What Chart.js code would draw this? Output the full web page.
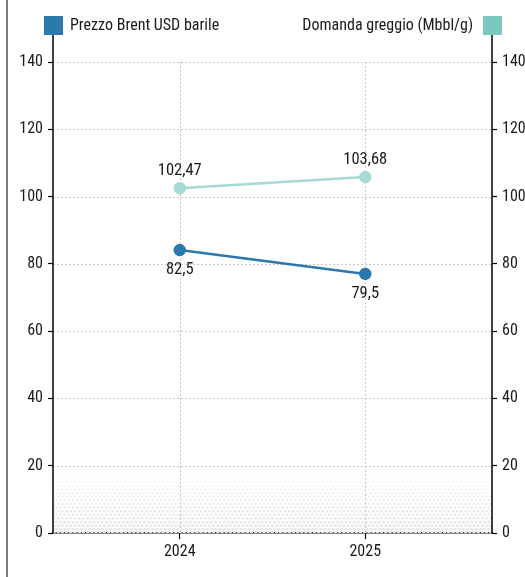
<!DOCTYPE html>
<html>
<head>
<meta charset="utf-8">
<script src="https://cdn.jsdelivr.net/npm/chart.js@4.4.1/dist/chart.umd.min.js"></script>
<style>
  html, body { margin: 0; padding: 0; background: #fff; }
  #wrap { position: relative; width: 525px; height: 577px; }
  #edge { position: absolute; left: 6px; top: 0; width: 2px; height: 577px; background: #7a7a7a; }
  canvas { position: absolute; left: 0; top: 0; }
</style>
</head>
<body>
<div id="wrap"><canvas id="c" width="525" height="577"></canvas><div id="edge"></div></div>
<script>
const years = [2024, 2025];
const brentValues = [84.1, 77.0];
const brentLabels = ["82,5", "79,5"];
const demandValues = [102.5, 105.8];
const demandLabels = ["102,47", "103,68"];
const yTicks = [0, 20, 40, 60, 80, 100, 120, 140];
const seriesNames = ["Prezzo Brent USD barile", "Domanda greggio (Mbbl/g)"];

const FONT = "'Roboto Condensed', 'Liberation Sans Narrow', 'Roboto', 'Liberation Sans', sans-serif";
const BLUE = '#2a78ad';
const BLUE_LEG = '#2b79ad';
const TEAL = '#a6dad4';
const TEAL_LEG = '#7bc8c1';

const decor = {
  id: 'decor',
  beforeDatasetsDraw(chart) {
    const ctx = chart.ctx;
    const ca = chart.chartArea;
    const yL = chart.scales.y, x = chart.scales.x;
    // halftone band at bottom
    const topY = yL.getPixelForValue(17.5);
    const h = ca.bottom - topY;
    ctx.save();
    ctx.beginPath();
    ctx.rect(ca.left, topY, ca.right - ca.left, h);
    ctx.clip();
    ctx.fillStyle = '#e9e9e9';
    let row = 0;
    for (let py = topY + 1; py < ca.bottom; py += 3.6, row++) {
      const t = (py - topY) / h;
      const r = 0.45 + 1.35 * t;
      const off = (row % 2) * 2.1;
      for (let px = ca.left + 1 + off; px < ca.right + 2; px += 4.2) {
        ctx.beginPath(); ctx.arc(px, py, r, 0, Math.PI * 2); ctx.fill();
      }
    }
    ctx.restore();
    ctx.save();
    // dotted grid
    ctx.strokeStyle = '#c8c8c8';
    ctx.lineWidth = 1;
    ctx.setLineDash([2, 2]);
    yTicks.forEach(v => {
      if (v === 0) return;
      const py = Math.round(yL.getPixelForValue(v)) + 0.5;
      ctx.beginPath(); ctx.moveTo(ca.left, py); ctx.lineTo(ca.right, py); ctx.stroke();
    });
    years.forEach(v => {
      const px = Math.round(x.getPixelForValue(v)) + 0.5;
      ctx.beginPath(); ctx.moveTo(px, ca.top); ctx.lineTo(px, ca.bottom); ctx.stroke();
    });
    ctx.restore();
  },
  afterDraw(chart) {
    const ctx = chart.ctx;
    const ca = chart.chartArea;
    ctx.save();
    // axis lines extended to legend
    ctx.strokeStyle = '#000';
    ctx.lineWidth = 1.5;
    ctx.beginPath(); ctx.moveTo(ca.left, 34); ctx.lineTo(ca.left, ca.bottom); ctx.stroke();
    ctx.beginPath(); ctx.moveTo(ca.right, 34); ctx.lineTo(ca.right, ca.bottom); ctx.stroke();
    // legend squares
    ctx.fillStyle = BLUE_LEG;
    ctx.fillRect(ca.left - 9, 16, 19, 19);
    ctx.fillStyle = TEAL_LEG;
    ctx.fillRect(ca.right - 9, 16, 19, 19);
    ctx.font = '16px ' + FONT;
    ctx.fillStyle = '#1a1a1a';
    ctx.textBaseline = 'middle';
    ctx.textAlign = 'left';
    ctx.fillText(seriesNames[0], ca.left + 17, 26);
    ctx.textAlign = 'right';
    ctx.fillText(seriesNames[1], ca.right - 19, 26);
    // data labels
    ctx.font = '16.5px ' + FONT;
    ctx.textAlign = 'center';
    const m0 = chart.getDatasetMeta(0), m1 = chart.getDatasetMeta(1);
    m0.data.forEach((p, i) => {
      ctx.fillText(brentLabels[i], p.x, p.y + 20);
    });
    m1.data.forEach((p, i) => {
      ctx.fillText(demandLabels[i], p.x, p.y - 17);
    });
    ctx.restore();
  }
};

const tickFont = { family: FONT, size: 16 };

new Chart(document.getElementById('c'), {
  type: 'line',
  data: {
    datasets: [
      {
        label: seriesNames[0],
        data: years.map((y, i) => ({ x: y, y: brentValues[i] })),
        borderColor: BLUE, backgroundColor: BLUE,
        pointBackgroundColor: BLUE, pointBorderColor: BLUE,
        borderWidth: 2.5, pointRadius: 5, yAxisID: 'y'
      },
      {
        label: seriesNames[1],
        data: years.map((y, i) => ({ x: y, y: demandValues[i] })),
        borderColor: TEAL, backgroundColor: TEAL,
        pointBackgroundColor: TEAL, pointBorderColor: TEAL,
        borderWidth: 2.5, pointRadius: 5, yAxisID: 'y1'
      }
    ]
  },
  options: {
    responsive: false,
    animation: false,
    devicePixelRatio: 1,
    layout: { padding: { top: 62, left: 0, right: 0, bottom: 0 } },
    plugins: { legend: { display: false }, tooltip: { enabled: false } },
    scales: {
      x: {
        type: 'linear',
        min: 2023.317, max: 2025.683,
        afterBuildTicks: s => { s.ticks = years.map(v => ({ value: v })); },
        afterFit: s => { s.height = 44; },
        grid: { drawOnChartArea: false, drawTicks: true, tickLength: 6, tickColor: '#000', tickWidth: 1.2 },
        border: { display: true, color: '#000', width: 1.5 },
        ticks: { font: tickFont, color: '#1a1a1a', padding: 3, callback: v => String(v), maxRotation: 0 }
      },
      y: {
        position: 'left', min: 0, max: 140,
        afterBuildTicks: s => { s.ticks = yTicks.map(v => ({ value: v })); },
        afterFit: s => { s.width = 53; },
        grid: { drawOnChartArea: false, drawTicks: true, tickLength: 5, tickColor: '#000', tickWidth: 1.2 },
        border: { display: false },
        ticks: { font: tickFont, color: '#1a1a1a', padding: 5 }
      },
      y1: {
        position: 'right', min: 0, max: 140,
        afterBuildTicks: s => { s.ticks = yTicks.map(v => ({ value: v })); },
        afterFit: s => { s.width = 33; },
        grid: { drawOnChartArea: false, drawTicks: true, tickLength: 5, tickColor: '#000', tickWidth: 1.2 },
        border: { display: false },
        ticks: { font: tickFont, color: '#1a1a1a', padding: 5 }
      }
    }
  },
  plugins: [decor]
});
</script>
</body>
</html>
